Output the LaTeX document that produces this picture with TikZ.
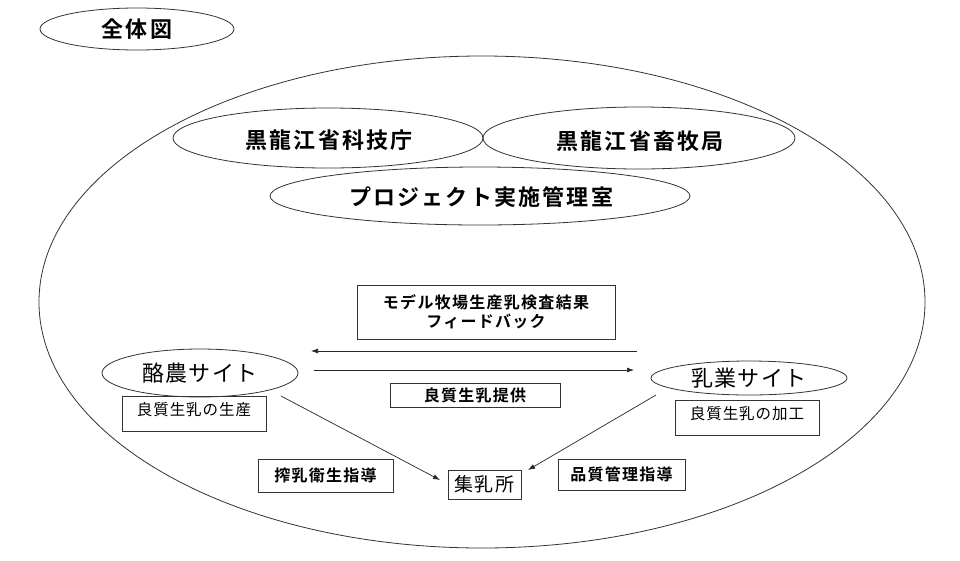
\documentclass[tikz,border=0pt]{standalone}
\usepackage{fontspec}
\setmainfont{Noto Sans CJK JP}
\newfontfamily\jpbig[LetterSpace=10]{Noto Sans CJK JP Bold}
\newfontfamily\jpbold[LetterSpace=8]{Noto Sans CJK JP Bold}
\newfontfamily\jpreg[LetterSpace=6]{Noto Sans CJK JP}
\usetikzlibrary{shapes.geometric,arrows.meta}
\tikzset{
  ln/.style={draw=black!80, line width=0.8pt},
  oval/.style={ln, ellipse, inner sep=0pt},
  bx/.style={ln, rectangle, inner sep=0pt},
  arr/.style={draw=black!85, line width=0.7pt, -{Latex[length=7pt,width=5pt]}},
  tbig/.style={font=\jpbig\fontsize{22}{24}\selectfont},
  tsite/.style={font=\jpreg\fontsize{22}{24}\selectfont},
  tmid/.style={font=\jpbold\fontsize{16}{20}\selectfont},
  tsmall/.style={font=\jpreg\fontsize{15.5}{18}\selectfont},
}
\begin{document}
\begin{tikzpicture}[x=1pt,y=-1pt]
\useasboundingbox (0,0) rectangle (960,560);
\fill[white] (0,0) rectangle (960,560);
% outer ellipse
\node[oval, minimum width=886pt, minimum height=492pt] (outer) at (482,302) {};
% title
\node[oval, minimum width=194pt, minimum height=42pt, tbig] (title) at (137,29) {全体図};
% agencies
\node[oval, minimum width=310pt, minimum height=60pt] (kagi) at (328,138) {};
\node[tbig] at (329,140) {黒龍江省科技庁};
\node[oval, minimum width=312pt, minimum height=62pt] (chiku) at (639,138) {};
\node[tbig] at (640,141) {黒龍江省畜牧局};
\node[oval, minimum width=420pt, minimum height=58pt] (pmo) at (480,196) {};
\node[tbig] at (481,197) {プロジェクト実施管理室};
% feedback box
\node[bx, minimum width=258pt, minimum height=54pt, tmid, align=center] (fb) at (486,312)
  {モデル牧場生産乳検査結果\\[-1pt]フィードバック};
% sites
\node[oval, minimum width=196pt, minimum height=48pt, tsite] (rakuno) at (200,373) {酪農サイト};
\node[bx, minimum width=144pt, minimum height=35pt, anchor=north west] (rprod) at (122,396) {};
\node[tsmall] at (194,410) {良質生乳の生産};
\node[oval, minimum width=196pt, minimum height=34pt, tsite] (nyugyo) at (749,378) {乳業サイト};
\node[bx, minimum width=144pt, minimum height=35pt, anchor=north west] (nproc) at (675,400) {};
\node[tsmall] at (747,414) {良質生乳の加工};
% supply box
\node[bx, minimum width=170pt, minimum height=24pt, tmid] (supply) at (475,395) {良質生乳提供};
% bottom boxes
\node[bx, minimum width=73pt, minimum height=29pt, font=\jpreg\fontsize{19}{20}\selectfont] (shunyu) at (484.5,484.5) {集乳所};
\node[bx, minimum width=135pt, minimum height=33pt, tmid] (sakunyu) at (325.5,475.5) {搾乳衛生指導};
\node[bx, minimum width=127pt, minimum height=31pt, tmid] (hinshitsu) at (621.5,474.5) {品質管理指導};
% connectors
\coordinate (fbR) at (637,351);
\coordinate (fbL) at (311,351);
\draw[arr] (fbR) -- (fbL);
\coordinate (spL) at (314,370);
\coordinate (spR) at (634,370);
\draw[arr] (spL) -- (spR);
\coordinate (d1s) at (281,396);
\coordinate (d1e) at (440,480);
\draw[arr] (d1s) -- (d1e);
\coordinate (d2s) at (656,395);
\coordinate (d2e) at (528,470);
\draw[arr] (d2s) -- (d2e);
\end{tikzpicture}
\end{document}
